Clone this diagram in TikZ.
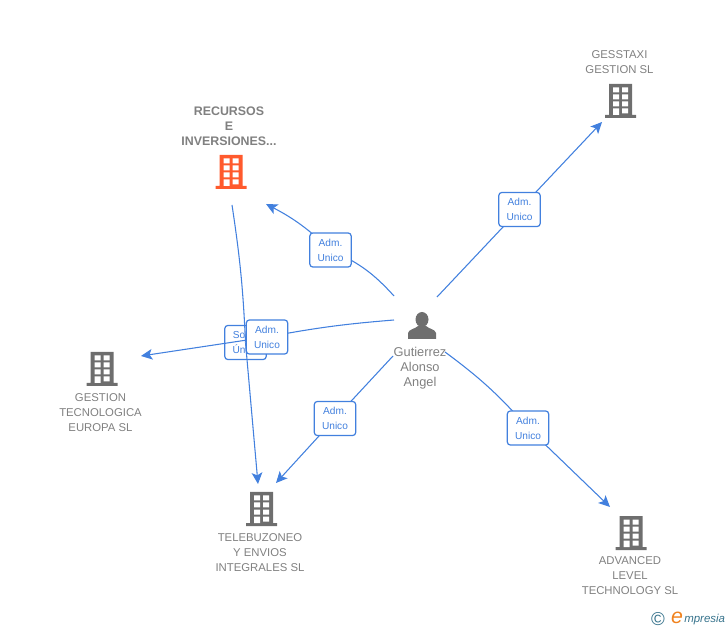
\documentclass[tikz,border=0pt]{standalone}
\usepackage{fontspec}
\setmainfont{Liberation Sans}
\usetikzlibrary{arrows.meta,backgrounds}
\definecolor{linkblue}{RGB}{66,128,222}
\definecolor{labelgray}{RGB}{128,128,128}
\definecolor{icongray}{RGB}{110,110,110}
\definecolor{iconorange}{RGB}{255,90,45}
\definecolor{logoteal}{RGB}{55,115,140}
\definecolor{logoorange}{RGB}{240,130,30}
\pgfdeclarelayer{behind}
\pgfsetlayers{behind,background,main}
\newcommand{\buildingshape}[1]{%
  \fill[#1] (-11.5,-17) rectangle (11.5,14) (-15.5,14) rectangle (15.5,17);
  \fill[white] (-7.5,-13.5) rectangle (-1.5,-8.5) (1.5,-13.5) rectangle (7.5,-8.5)
    (-7.5,-6.5) rectangle (-1.5,-1.5) (1.5,-6.5) rectangle (7.5,-1.5)
    (-7.5,0.5) rectangle (-1.5,5.5) (1.5,0.5) rectangle (7.5,5.5)
    (-7.5,7.5) rectangle (-1.5,14) (1.5,7.5) rectangle (7.5,12.5);
}
\tikzset{
  x=0.75pt,y=-0.75pt,
  company/.style={minimum width=24pt,minimum height=26pt,inner sep=0pt,
    path picture={\begin{scope}[shift={(path picture bounding box.center)}]\buildingshape{#1}\end{scope}}},
  person/.style={minimum width=24pt,minimum height=24pt,inner sep=0pt,
    path picture={\begin{scope}[shift={(path picture bounding box.center)}]
      \fill[icongray] (0,-5.5) ellipse (6.5 and 7.5);
      \fill[icongray] (-14,14) -- (-14,8) .. controls (-13,4) and (-7,4) .. (-4,1) -- (4,1)
        .. controls (7,4) and (13,4) .. (14,8) -- (14,14) -- cycle;
    \end{scope}}},
  caption/.style={align=center,text=labelgray,inner sep=0pt,
    font=\fontsize{8.5}{11.25}\selectfont},
  role/.style={draw=linkblue,line width=0.9pt,fill=white,rounded corners=2.2pt,
    minimum width=31pt,minimum height=25.5pt,inner sep=0pt,align=center,
    text=linkblue,font=\fontsize{7.6}{11.25}\selectfont},
  link/.style={draw=linkblue,line width=0.8pt},
  linkto/.style={link,-{Stealth[length=8.5pt,width=8pt,inset=2pt]}}
}
\begin{document}
\begin{tikzpicture}
  \useasboundingbox (0,0) rectangle (728,630);
  \node[company=iconorange] (recursos) at (231,172) {};
  \node[company=icongray] (gesstaxi) at (620.5,101) {};
  \node[company=icongray] (gestion) at (102,369) {};
  \node[company=icongray] (telebuzoneo) at (261.5,509) {};
  \node[company=icongray] (advanced) at (631,533) {};
  \node[person] (gutierrez) at (422,325) {};
  \node[caption,font=\fontsize{9.3}{11.25}\selectfont\bfseries] (recursostxt) at (229,126) {RECURSOS\\E\\INVERSIONES...};
  \node[caption] (gesstaxitxt) at (619.5,62.5) {GESSTAXI\\GESTION SL};
  \node[caption] (gestiontxt) at (100.5,413) {GESTION\\TECNOLOGICA\\EUROPA SL};
  \node[caption] (telebuzoneotxt) at (260,553) {TELEBUZONEO\\Y ENVIOS\\INTEGRALES SL};
  \node[caption] (advancedtxt) at (630,576) {ADVANCED\\LEVEL\\TECHNOLOGY SL};
  \node[caption,font=\fontsize{9.6}{11.25}\selectfont] (gutierreztxt) at (420,368) {Gutierrez\\Alonso\\Angel};
  \begin{pgfonlayer}{behind}
    \node[role] (socio) at (245.5,342.5) {Socio\\Único};
  \end{pgfonlayer}
  \node[role] (admrecursos) at (330.5,250) {Adm.\\Unico};
  \node[role] (admgesstaxi) at (519.5,209.5) {Adm.\\Unico};
  \node[role] (admgestion) at (267,337) {Adm.\\Unico};
  \node[role] (admtele) at (335,418.5) {Adm.\\Unico};
  \node[role] (admadvanced) at (528,428) {Adm.\\Unico};
  \coordinate (g1) at (394,296);
  \coordinate (g2) at (437,297);
  \coordinate (g3) at (394,320);
  \coordinate (g4) at (393,356);
  \coordinate (g5) at (445,352);
  \coordinate (r1) at (232,205);
  \coordinate (a1) at (266,204);
  \coordinate (a2) at (602,122);
  \coordinate (a3) at (141,356);
  \coordinate (a4) at (276,483);
  \coordinate (a5) at (610,507);
  \coordinate (a6) at (258,484);
  \begin{pgfonlayer}{background}
    \draw[link] (g1) to[bend right=12] (admrecursos.center);
    \draw[linkto] (admrecursos.center) to[bend right=8] (a1);
    \draw[link] (g2) -- (admgesstaxi.center);
    \draw[linkto] (admgesstaxi.center) -- (a2);
    \draw[link] (g3) to[bend right=3] (admgestion.center);
    \draw[linkto] (admgestion.center) -- (a3);
    \draw[link] (g4) -- (admtele.center);
    \draw[linkto] (admtele.center) -- (a4);
    \draw[link] (g5) to[bend left=6] (admadvanced.center);
    \draw[linkto] (admadvanced.center) -- (a5);
    \draw[link] (r1) to[bend left=3] (socio.center);
    \draw[linkto] (socio.center) -- (a6);
  \end{pgfonlayer}
  \node[text=logoteal,inner sep=0pt,font=\fontsize{14}{14}\selectfont] (logoc) at (658,619) {©};
  \node[text=logoorange,inner sep=0pt,font=\fontsize{16}{16}\selectfont\itshape] (logoe) at (677,617.5) {e};
  \node[anchor=west,text=logoteal,inner sep=0pt,font=\fontsize{8.6}{10}\selectfont\itshape] (logotxt) at (684,619.5) {mpresia};
\end{tikzpicture}
\end{document}
